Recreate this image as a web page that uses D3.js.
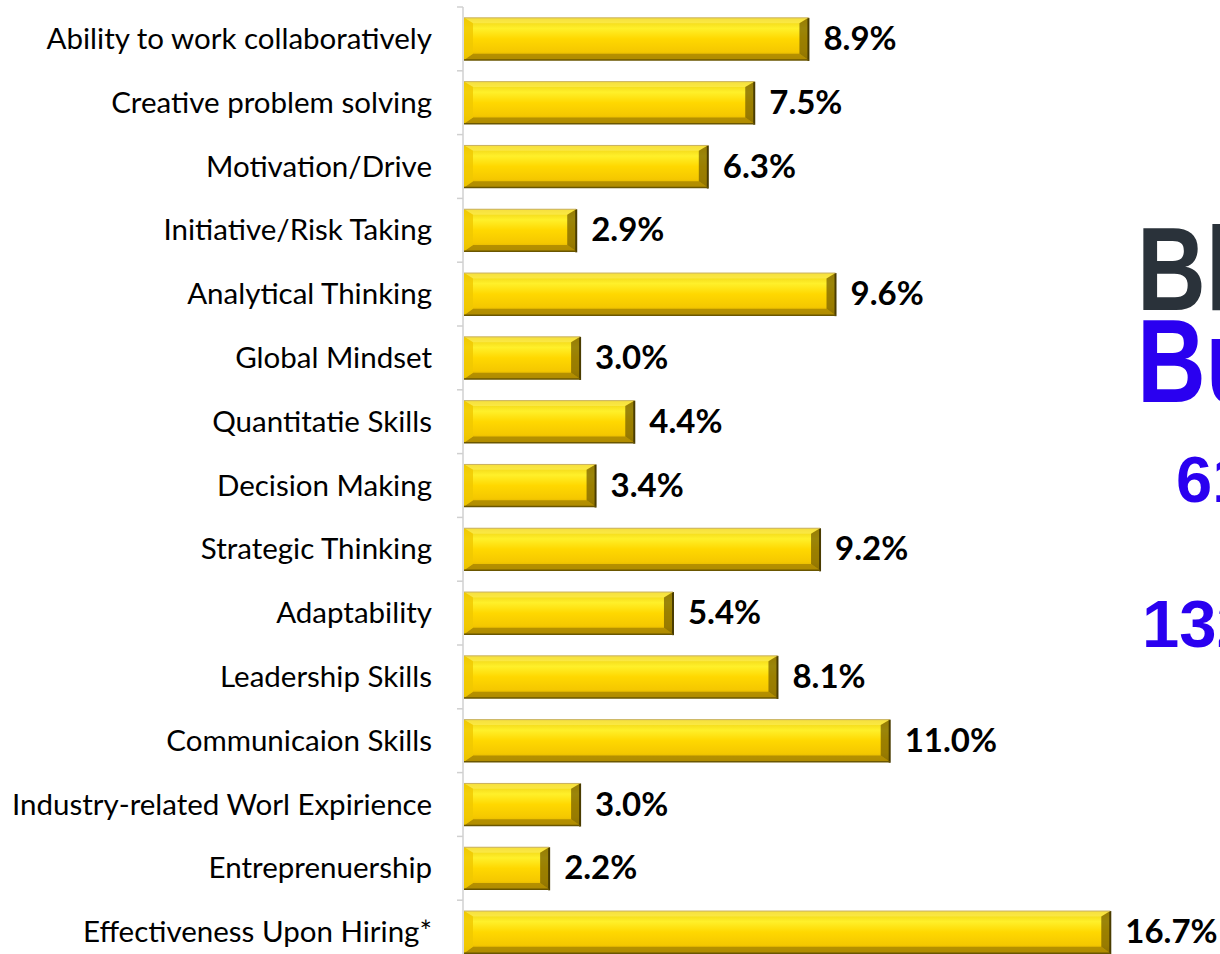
<!DOCTYPE html>
<html><head><meta charset="utf-8">
<script src="https://cdn.jsdelivr.net/npm/d3@7"></script>
<style>html,body{margin:0;padding:0;background:#fff;overflow:hidden}</style>
</head><body>
<svg id="c" width="1220" height="954"></svg>
<script>
const categories = ["Ability to work collaboratively","Creative problem solving","Motivation/Drive","Initiative/Risk Taking","Analytical Thinking","Global Mindset","Quantitatie Skills","Decision Making","Strategic Thinking","Adaptability","Leadership Skills","Communicaion Skills","Industry-related Worl Expirience","Entreprenuership","Effectiveness Upon Hiring*"];
const values = [8.9,7.5,6.3,2.9,9.6,3.0,4.4,3.4,9.2,5.4,8.1,11.0,3.0,2.2,16.7];
const sideLines = ["Bloomberg","Businessweek"];
const sideNumbers = ["61","132"];

const svg = d3.select("#c");
const x0 = 464;
const x = d3.scaleLinear().domain([0,1]).range([x0, x0+38.7]);
const y = d3.scaleBand().domain(categories).range([7, 7+63.8*15]).paddingInner(0.34).paddingOuter(0.17);

const defs = svg.append("defs");
const g1 = defs.append("linearGradient").attr("id","gold").attr("x1",0).attr("y1",0).attr("x2",0).attr("y2",1);
[[0,"#eccb10"],[0.25,"#fff02a"],[0.5,"#ffd800"],[0.8,"#f5c800"],[1,"#d0a600"]].forEach(s=>g1.append("stop").attr("offset",s[0]).attr("stop-color",s[1]));

const axisG = svg.append("g");
axisG.append("line").attr("x1",x0-1).attr("x2",x0-1).attr("y1",7).attr("y2",954).attr("stroke","#d0d0d0").attr("stroke-width",1.5);
const bounds = d3.range(categories.length+1).map(i=>7+63.8*i);
axisG.selectAll(".tk").data(bounds).join("line").attr("x1",x0-7).attr("x2",x0-1).attr("y1",d=>d).attr("y2",d=>d).attr("stroke","#d0d0d0").attr("stroke-width",1.5);

const bars = svg.selectAll(".bar").data(categories).join("g").attr("class","bar");
const bv = 9;
bars.each(function(c,i){
  const g = d3.select(this);
  const xs = x0, xe = x(values[i]), yt = y(c), h = y.bandwidth(), yb = yt+h;
  g.append("rect").attr("x",xs).attr("y",yt).attr("width",xe-xs).attr("height",h).attr("fill","url(#gold)");
  g.append("polygon").attr("points",[[xs,yt],[xe,yt],[xe-bv,yt+bv*0.6],[xs+bv,yt+bv*0.6]].join(" ")).attr("fill","#fff36a").attr("opacity",0.5);
  g.append("polygon").attr("points",[[xs,yb],[xe,yb],[xe-bv,yb-bv*0.7],[xs+bv,yb-bv*0.7]].join(" ")).attr("fill","#a88400").attr("opacity",0.8);
  g.append("polygon").attr("points",[[xs,yt],[xs+bv,yt+bv*0.6],[xs+bv,yb-bv*0.7],[xs,yb]].join(" ")).attr("fill","#f0c800").attr("opacity",0.8);
  g.append("polygon").attr("points",[[xe,yt],[xe-bv,yt+bv*0.6],[xe-bv,yb-bv*0.7],[xe,yb]].join(" ")).attr("fill","#7a6200").attr("opacity",0.75);
  g.append("line").attr("x1",xe).attr("x2",xe).attr("y1",yt).attr("y2",yb+1).attr("stroke","#4a3c00").attr("stroke-width",2);
  g.append("line").attr("x1",xs).attr("x2",xe).attr("y1",yb).attr("y2",yb).attr("stroke","#6a5600").attr("stroke-width",1.5);
  g.append("line").attr("x1",xs).attr("x2",xe).attr("y1",yt).attr("y2",yt).attr("stroke","#c8b060").attr("stroke-width",1);
});

svg.selectAll(".val").data(categories).join("text")
  .attr("x",(c,i)=>x(values[i])+15).attr("y",c=>y(c)+y.bandwidth()/2+11)
  .attr("font-family","Lato, 'Open Sans', sans-serif").attr("font-weight","bold").attr("font-size",33).attr("fill","#000")
  .text((c,i)=>values[i].toFixed(1)+"%");

svg.selectAll(".cat").data(categories).join("text")
  .attr("x",432).attr("y",c=>y(c)+y.bandwidth()/2+10)
  .attr("text-anchor","end")
  .attr("font-family","Lato, 'Open Sans', sans-serif").attr("font-size",29.5).attr("fill","#000")
  .text(c=>c);

svg.append("text").attr("transform","translate(1137,310) scale(0.8,1)").attr("font-family","'Liberation Sans', Arial, sans-serif").attr("font-weight","bold").attr("font-size",119).attr("fill","#2a323a").text(sideLines[0]);
svg.append("text").attr("transform","translate(1137,402) scale(0.8,1)").attr("font-family","'Liberation Sans', Arial, sans-serif").attr("font-weight","bold").attr("font-size",119).attr("fill","#2a00f0").text(sideLines[1]);
svg.append("text").attr("x",1176).attr("y",502).attr("font-family","'Liberation Sans', Arial, sans-serif").attr("font-weight","bold").attr("font-size",65).attr("fill","#2a00f0").text(sideNumbers[0]);
svg.append("text").attr("x",1142).attr("y",647).attr("font-family","'Liberation Sans', Arial, sans-serif").attr("font-weight","bold").attr("font-size",67).attr("fill","#2a00f0").text(sideNumbers[1]);
</script>
</body></html>
